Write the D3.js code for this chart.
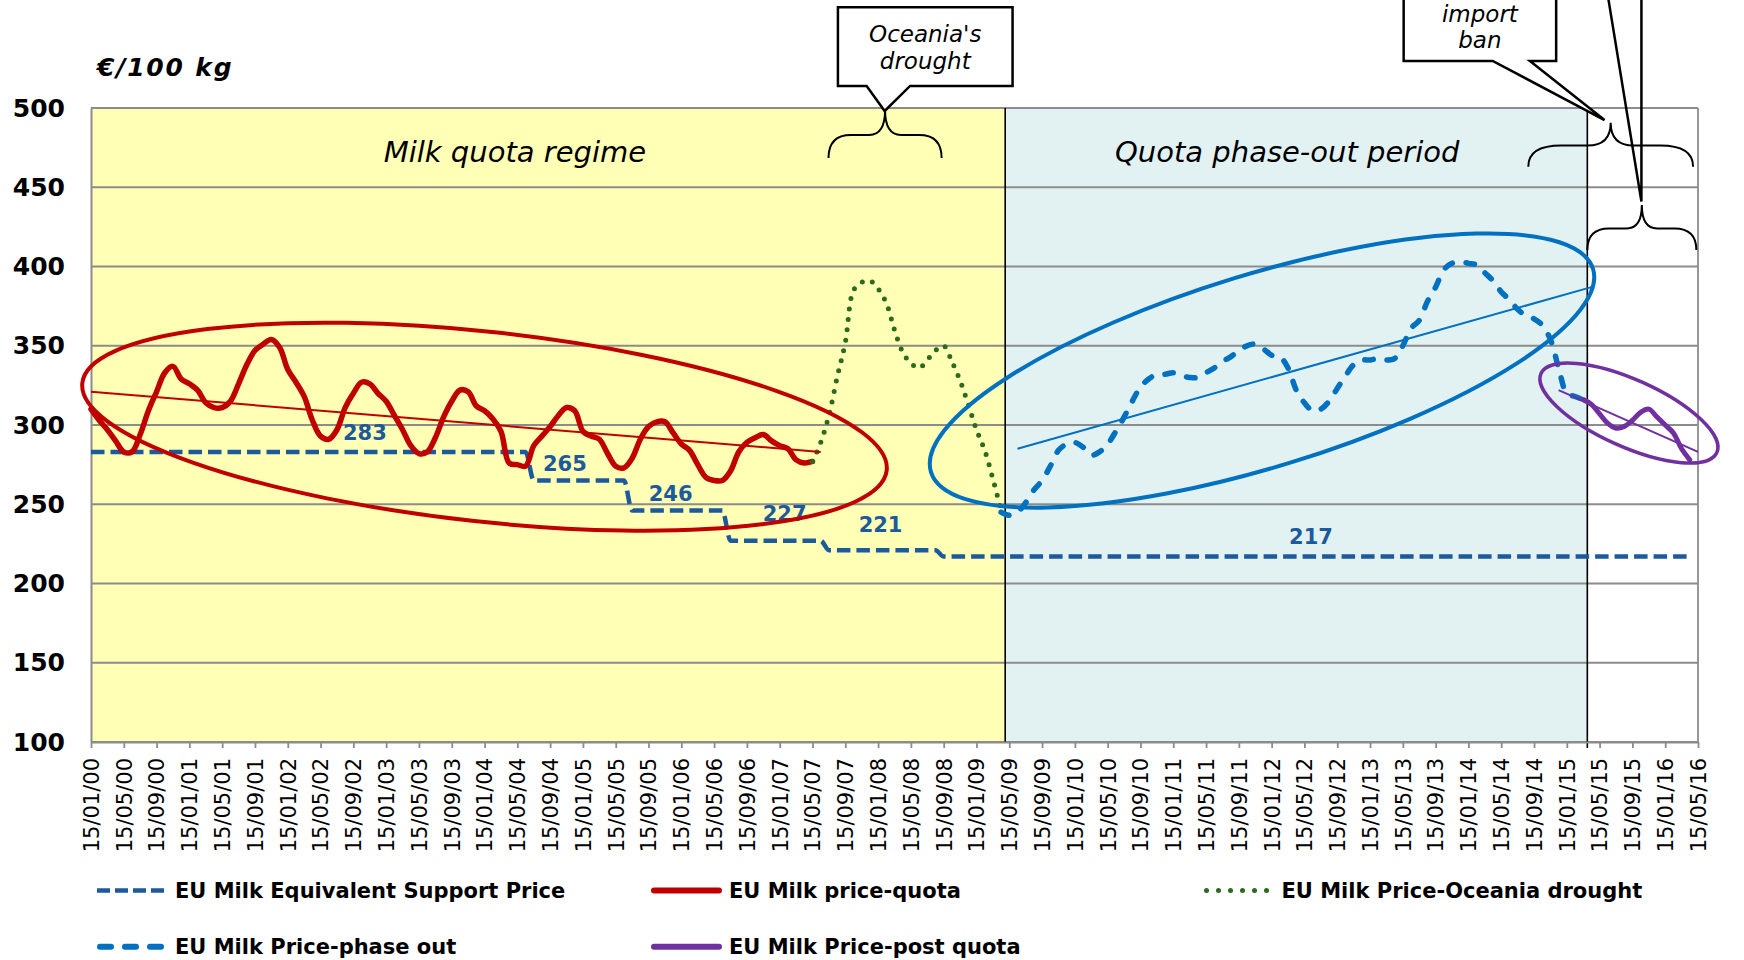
<!DOCTYPE html>
<html>
<head>
<meta charset="utf-8">
<script src="https://cdn.jsdelivr.net/npm/d3@7"></script>
<style>
  body { margin: 0; background: #fff; }
  svg { display: block; font-family: "DejaVu Sans", Verdana, sans-serif; }
</style>
</head>
<body>
<div id="chart"></div>
<script>
// ---- data ----
var tickLabels = [
  "15/01/00","15/05/00","15/09/00","15/01/01","15/05/01","15/09/01",
  "15/01/02","15/05/02","15/09/02","15/01/03","15/05/03","15/09/03",
  "15/01/04","15/05/04","15/09/04","15/01/05","15/05/05","15/09/05",
  "15/01/06","15/05/06","15/09/06","15/01/07","15/05/07","15/09/07",
  "15/01/08","15/05/08","15/09/08","15/01/09","15/05/09","15/09/09",
  "15/01/10","15/05/10","15/09/10","15/01/11","15/05/11","15/09/11",
  "15/01/12","15/05/12","15/09/12","15/01/13","15/05/13","15/09/13",
  "15/01/14","15/05/14","15/09/14","15/01/15","15/05/15","15/09/15",
  "15/01/16","15/05/16"
];
var yTicks = [100, 150, 200, 250, 300, 350, 400, 450, 500];
var firstMonth = "2000-01", lastMonth = "2016-05";

var periodNames = ["Milk quota regime", "Quota phase-out period"];
var periodEdges = ["2000-01", "2009-05", "2015-04"];

// EU Milk Equivalent Support Price (steps)
var supportMonths = ["2000-01","2004-06","2004-07","2005-06","2005-07","2006-06","2006-07",
                     "2007-06","2007-07","2008-08","2008-09","2016-04"];
var supportValues = [283, 283, 265, 265, 246, 246, 227, 227, 221, 221, 217, 217];
var supportLabels = ["283", "265", "246", "227", "221", "217"];

// monthly series, consecutive months from the start month
var quotaStart = "2000-01";
var quotaValues = [310,303,297,290,283,283,294,309,321,333,
                   337,329,326,322,314,311,311,315,326,338,
                   347,351,354,349,335,327,318,303,293,291,
                   297,311,320,327,326,320,315,306,297,287,
                   282,283,292,305,315,322,321,312,309,304,
                   296,276,275,274,287,293,299,306,311,309,
                   296,293,291,282,274,273,279,291,299,302,
                   302,295,288,284,275,267,265,265,271,283,
                   289,292,294,290,287,285,278,276,277];

var droughtStart = "2007-05";
var droughtValues = [277,289,306,330,352,385,390,391,386,377,
                     360,346,339,336,341,347,350,340,328,313,
                     297,284,266,246];

var phaseOutStart = "2009-04";
var phaseOutValues = [245,243,245,251,259,265,274,284,288,289,
                      286,281,283,288,296,305,315,324,329,332,
                      332,333,331,330,330,333,336,340,343,347,
                      350,351,348,344,343,336,322,314,309,310,
                      315,323,331,338,341,341,342,341,342,350,
                      361,366,378,387,398,402,403,402,401,396,
                      391,384,379,373,369,367,363,354,336,320,
                      318,316];

var postQuotaStart = "2015-03";
var postQuotaValues = [316,313,307,301,298,299,303,308,310,305,300,295,285,278];

// linear trends (start month, end month / start value, end value)
var quotaTrendMonths = ["2000-01", "2007-06"], quotaTrendValues = [321, 283];
var phaseOutTrendMonths = ["2009-06", "2015-04"], phaseOutTrendValues = [285, 387];
var postTrendMonths = ["2014-12", "2016-05"], postTrendValues = [322, 283];

var legendNames = ["EU Milk Equivalent Support Price", "EU Milk price-quota",
  "EU Milk Price-Oceania drought", "EU Milk Price-phase out", "EU Milk Price-post quota"];

var calloutTexts = [["Oceania's", "drought"], ["import", "ban"]];

// ---- layout ----
var W = 1744, H = 960;
var margin = {top: 108, right: 46, bottom: 218, left: 91};
var width = W - margin.left - margin.right,
    height = H - margin.top - margin.bottom;

function mi(s) { var p = s.split("-"); return (+p[0] - 2000) * 12 + (+p[1] - 1); }

var x = d3.scaleLinear().domain([mi(firstMonth), mi(lastMonth)]).range([0, width]);
var y = d3.scaleLinear().domain([100, 500]).range([height, 0]);

var svg = d3.select("#chart").append("svg")
    .attr("width", W).attr("height", H)
  .append("g")
    .attr("transform", "translate(" + margin.left + "," + margin.top + ")");

function series(start, vals) {
  var s = mi(start);
  return vals.map(function(v, i) { return [s + i, v]; });
}
function pairs(months, vals) {
  return months.map(function(m, i) { return [mi(m), vals[i]]; });
}

// period backgrounds
var edges = periodEdges.map(function(e, i) { return i === 0 ? mi(e) : mi(e) - 0.5; });
var periodFills = ["#FFFFB5", "#E2F2F3"];
svg.append("g").selectAll("rect")
  .data(periodNames)
  .enter().append("rect")
    .attr("x", function(d, i) { return x(edges[i]); })
    .attr("width", function(d, i) { return x(edges[i + 1]) - x(edges[i]); })
    .attr("y", 0).attr("height", height)
    .attr("fill", function(d, i) { return periodFills[i]; });

// gridlines
svg.append("g").selectAll("line")
  .data(yTicks)
  .enter().append("line")
    .attr("x1", 0).attr("x2", width)
    .attr("y1", function(d) { return y(d); }).attr("y2", function(d) { return y(d); })
    .attr("stroke", "#8c8c8c").attr("stroke-width", 1.8);

// right border
svg.append("line")
  .attr("x1", width).attr("x2", width).attr("y1", 0).attr("y2", height)
  .attr("stroke", "#8c8c8c").attr("stroke-width", 1.8);

// period boundaries
svg.append("g").selectAll("line")
  .data(edges.slice(1))
  .enter().append("line")
    .attr("x1", function(d) { return x(d); }).attr("x2", function(d) { return x(d); })
    .attr("y1", 0).attr("y2", function(d, i) { return i === 1 ? height + 6 : height; })
    .attr("stroke", "#000").attr("stroke-width", 1.6);

// axes
var xAxis = svg.append("g")
    .attr("transform", "translate(0," + height + ")")
    .call(d3.axisBottom(x)
      .tickValues(d3.range(0, mi(lastMonth) + 1, 4))
      .tickFormat(function(d, i) { return tickLabels[i]; })
      .tickSize(6).tickSizeOuter(0));
xAxis.select(".domain").attr("stroke", "#8c8c8c").attr("stroke-width", 2);
xAxis.selectAll(".tick line").attr("stroke", "#8c8c8c").attr("stroke-width", 1.8);
xAxis.selectAll(".tick text")
    .attr("transform", "rotate(-90)")
    .attr("x", -16).attr("y", 0).attr("dy", "0.35em")
    .style("text-anchor", "end")
    .style("font-size", "21px")
    .style("font-family", "DejaVu Sans")
    .attr("fill", "#000");

var yAxis = svg.append("g")
    .call(d3.axisLeft(y).tickValues(yTicks).tickSize(0).tickPadding(26));
yAxis.select(".domain").attr("stroke", "#8c8c8c").attr("stroke-width", 2);
yAxis.selectAll(".tick text")
    .style("font-size", "25px").style("font-weight", "bold")
    .style("font-family", "DejaVu Sans").attr("fill", "#000");

// title
svg.append("text")
  .attr("x", 6).attr("y", -32)
  .style("font-size", "25px").style("font-weight", "bold").style("font-style", "italic")
  .style("letter-spacing", "1.8px")
  .text("€/100 kg");

// period labels
var periodLabelAt = [[51.7, 466], [145.9, 466]];
svg.append("g").selectAll("text")
  .data(periodNames)
  .enter().append("text")
    .attr("x", function(d, i) { return x(periodLabelAt[i][0]); })
    .attr("y", function(d, i) { return y(periodLabelAt[i][1]); })
    .attr("text-anchor", "middle")
    .style("font-size", "29px").style("font-style", "italic")
    .text(function(d) { return d; });

// lines
var smooth = d3.line()
    .x(function(d) { return x(d[0]); })
    .y(function(d) { return y(d[1]); })
    .curve(d3.curveCatmullRom.alpha(0.5));
var steps = d3.line()
    .x(function(d) { return x(d[0]); })
    .y(function(d) { return y(d[1]); })
    .curve(d3.curveMonotoneX);
var straight = d3.line()
    .x(function(d) { return x(d[0]); })
    .y(function(d) { return y(d[1]); });

svg.append("path")
  .attr("d", steps(pairs(supportMonths, supportValues)))
  .attr("fill", "none").attr("stroke", "#1c5a9c").attr("stroke-width", 4.5)
  .attr("stroke-dasharray", "13.5,6");

svg.append("path")
  .attr("d", smooth(series(quotaStart, quotaValues)))
  .attr("fill", "none").attr("stroke", "#C00000").attr("stroke-width", 5.5)
  .attr("stroke-linejoin", "round").attr("stroke-linecap", "round");

svg.append("path")
  .attr("d", smooth(series(droughtStart, droughtValues)))
  .attr("fill", "none").attr("stroke", "#2d6a1e").attr("stroke-width", 5)
  .attr("stroke-linecap", "round").attr("stroke-dasharray", "0,10.5");

svg.append("path")
  .attr("d", smooth(series(phaseOutStart, phaseOutValues)))
  .attr("fill", "none").attr("stroke", "#0070C0").attr("stroke-width", 5.5)
  .attr("stroke-linecap", "round").attr("stroke-dasharray", "8.5,14");

svg.append("path")
  .attr("d", smooth(series(postQuotaStart, postQuotaValues)))
  .attr("fill", "none").attr("stroke", "#7030A0").attr("stroke-width", 5)
  .attr("stroke-linejoin", "round").attr("stroke-linecap", "round");

// trend lines
[[quotaTrendMonths, quotaTrendValues, "#C00000"],
 [phaseOutTrendMonths, phaseOutTrendValues, "#0070C0"],
 [postTrendMonths, postTrendValues, "#7030A0"]].forEach(function(t) {
  svg.append("path")
    .attr("d", straight(pairs(t[0], t[1])))
    .attr("fill", "none").attr("stroke", t[2]).attr("stroke-width", 2);
});

// support price labels
var supportLabelAt = [[33.4, 295], [57.8, 276], [70.7, 257], [84.6, 244.5], [96.3, 237], [148.8, 229.5]];
svg.append("g").selectAll("text")
  .data(supportLabels)
  .enter().append("text")
    .attr("x", function(d, i) { return x(supportLabelAt[i][0]); })
    .attr("y", function(d, i) { return y(supportLabelAt[i][1]); })
    .attr("dy", "0.36em").attr("text-anchor", "middle")
    .attr("fill", "#1c5a9c")
    .style("font-size", "21px").style("font-weight", "bold")
    .text(function(d) { return d; });

// ellipses: major axis end points (month, value) and half-width (value units)
var ellipses = [
  {from: [-1.06, 326.5], to: [97.05, 271.4], half: 59.9, color: "#C00000", w: 4},
  {from: [102.45, 270.3], to: [183.2, 398.4], half: 60.8, color: "#0070C0", w: 4},
  {from: [176.85, 332.5], to: [198.3, 282.6], half: 21.2, color: "#7030A0", w: 3.5}
];
svg.append("g").selectAll("ellipse")
  .data(ellipses)
  .enter().append("ellipse")
    .each(function(d) {
      var x1 = x(d.from[0]), y1 = y(d.from[1]), x2 = x(d.to[0]), y2 = y(d.to[1]);
      var a = Math.hypot(x2 - x1, y2 - y1) / 2;
      var b = y(0) - y(d.half);
      var ang = Math.atan2(y2 - y1, x2 - x1) * 180 / Math.PI;
      d3.select(this)
        .attr("rx", a).attr("ry", b)
        .attr("transform", "translate(" + (x1 + x2) / 2 + "," + (y1 + y2) / 2 + ") rotate(" + ang + ")");
    })
    .attr("fill", "none")
    .attr("stroke", function(d) { return d.color; })
    .attr("stroke-width", function(d) { return d.w; });

// braces: month range, tip value, end value
var braces = [
  {m0: 89.95, m1: 103.75, tip: 498.7, end: 468.5},
  {m0: 175.3, m1: 195.4, tip: 490.7, end: 463.0},
  {m0: 182.5, m1: 195.8, tip: 438.8, end: 410.4}
];
function bracePath(d) {
  var l = x(d.m0), r = x(d.m1), c = (l + r) / 2;
  var t = y(d.tip), e = y(d.end), arm = t + (e - t) * 0.52;
  var r1 = (r - l) * 0.2, r2 = (r - l) * 0.14;
  return "M" + l + "," + e +
    " Q" + l + "," + arm + " " + (l + r1) + "," + arm +
    " L" + (c - r2) + "," + arm +
    " Q" + c + "," + arm + " " + c + "," + t +
    " Q" + c + "," + arm + " " + (c + r2) + "," + arm +
    " L" + (r - r1) + "," + arm +
    " Q" + r + "," + arm + " " + r + "," + e;
}
svg.append("g").selectAll("path")
  .data(braces)
  .enter().append("path")
    .attr("d", bracePath)
    .attr("fill", "none").attr("stroke", "#000").attr("stroke-width", 2);

// callouts: box (months, values), tail base months and tip
var callouts = [
  {m0: 91.1, m1: 112.4, top: 563.5, bottom: 513.9, bl: 94.6, br: 99.9, tip: [96.8, 498.1], text: 0, lines: [541.9, 524.6]},
  {m0: 160.1, m1: 178.7, top: 590, bottom: 529.7, bl: 170.96, br: 175.5, tip: [184.6, 492.4], text: 1, lines: [554.0, 537.8]}
];
callouts.forEach(function(d) {
  var x0 = x(d.m0), x1 = x(d.m1), y0 = y(d.top), y1 = y(d.bottom);
  svg.append("path")
    .attr("d", "M" + x0 + "," + y0 + " L" + x1 + "," + y0 + " L" + x1 + "," + y1 +
      " L" + x(d.br) + "," + y1 + " L" + x(d.tip[0]) + "," + y(d.tip[1]) +
      " L" + x(d.bl) + "," + y1 + " L" + x0 + "," + y1 + " Z")
    .attr("fill", "#fff").attr("stroke", "#000").attr("stroke-width", 2.5)
    .attr("stroke-linejoin", "miter");
  svg.append("g").selectAll("text")
    .data(calloutTexts[d.text])
    .enter().append("text")
      .attr("x", (x0 + x1) / 2)
      .attr("y", function(t, i) { return y(d.lines[i]); })
      .attr("text-anchor", "middle")
      .style("font-size", "23px").style("font-style", "italic")
      .text(function(t) { return t; });
});

// tail of a callout sitting above the picture
var tail3 = [[184.4, 590], [189.1, 441], [189.1, 590]];
svg.append("path")
  .attr("d", straight(tail3))
  .attr("fill", "none").attr("stroke", "#000").attr("stroke-width", 2.5);

// legend
var legendStyle = [
  {color: "#1c5a9c", w: 4.5, dash: "13,5", cap: "butt"},
  {color: "#C00000", w: 6, dash: null, cap: "round"},
  {color: "#2d6a1e", w: 5, dash: "0,12", cap: "round"},
  {color: "#0070C0", w: 6, dash: "11,14", cap: "round"},
  {color: "#7030A0", w: 6, dash: null, cap: "round"}
];
var legendCol = [6, 560, 1112.5], legendRow = [782.5, 838.7];
var legend = svg.append("g").selectAll("g")
  .data(legendNames)
  .enter().append("g")
    .attr("transform", function(d, i) {
      return "translate(" + legendCol[i % 3] + "," + legendRow[Math.floor(i / 3)] + ")";
    });
legend.append("line")
  .attr("x1", function(d, i) { return legendStyle[i].cap === "round" ? 3 : 0; })
  .attr("x2", function(d, i) { return legendStyle[i].cap === "round" ? 68 : 71; })
  .attr("stroke", function(d, i) { return legendStyle[i].color; })
  .attr("stroke-width", function(d, i) { return legendStyle[i].w; })
  .attr("stroke-linecap", function(d, i) { return legendStyle[i].cap; })
  .attr("stroke-dasharray", function(d, i) { return legendStyle[i].dash; });
legend.append("text")
  .attr("x", 78).attr("dy", "0.36em")
  .style("font-size", "21px").style("font-weight", "bold")
  .text(function(d) { return d; });
</script>
</body>
</html>
